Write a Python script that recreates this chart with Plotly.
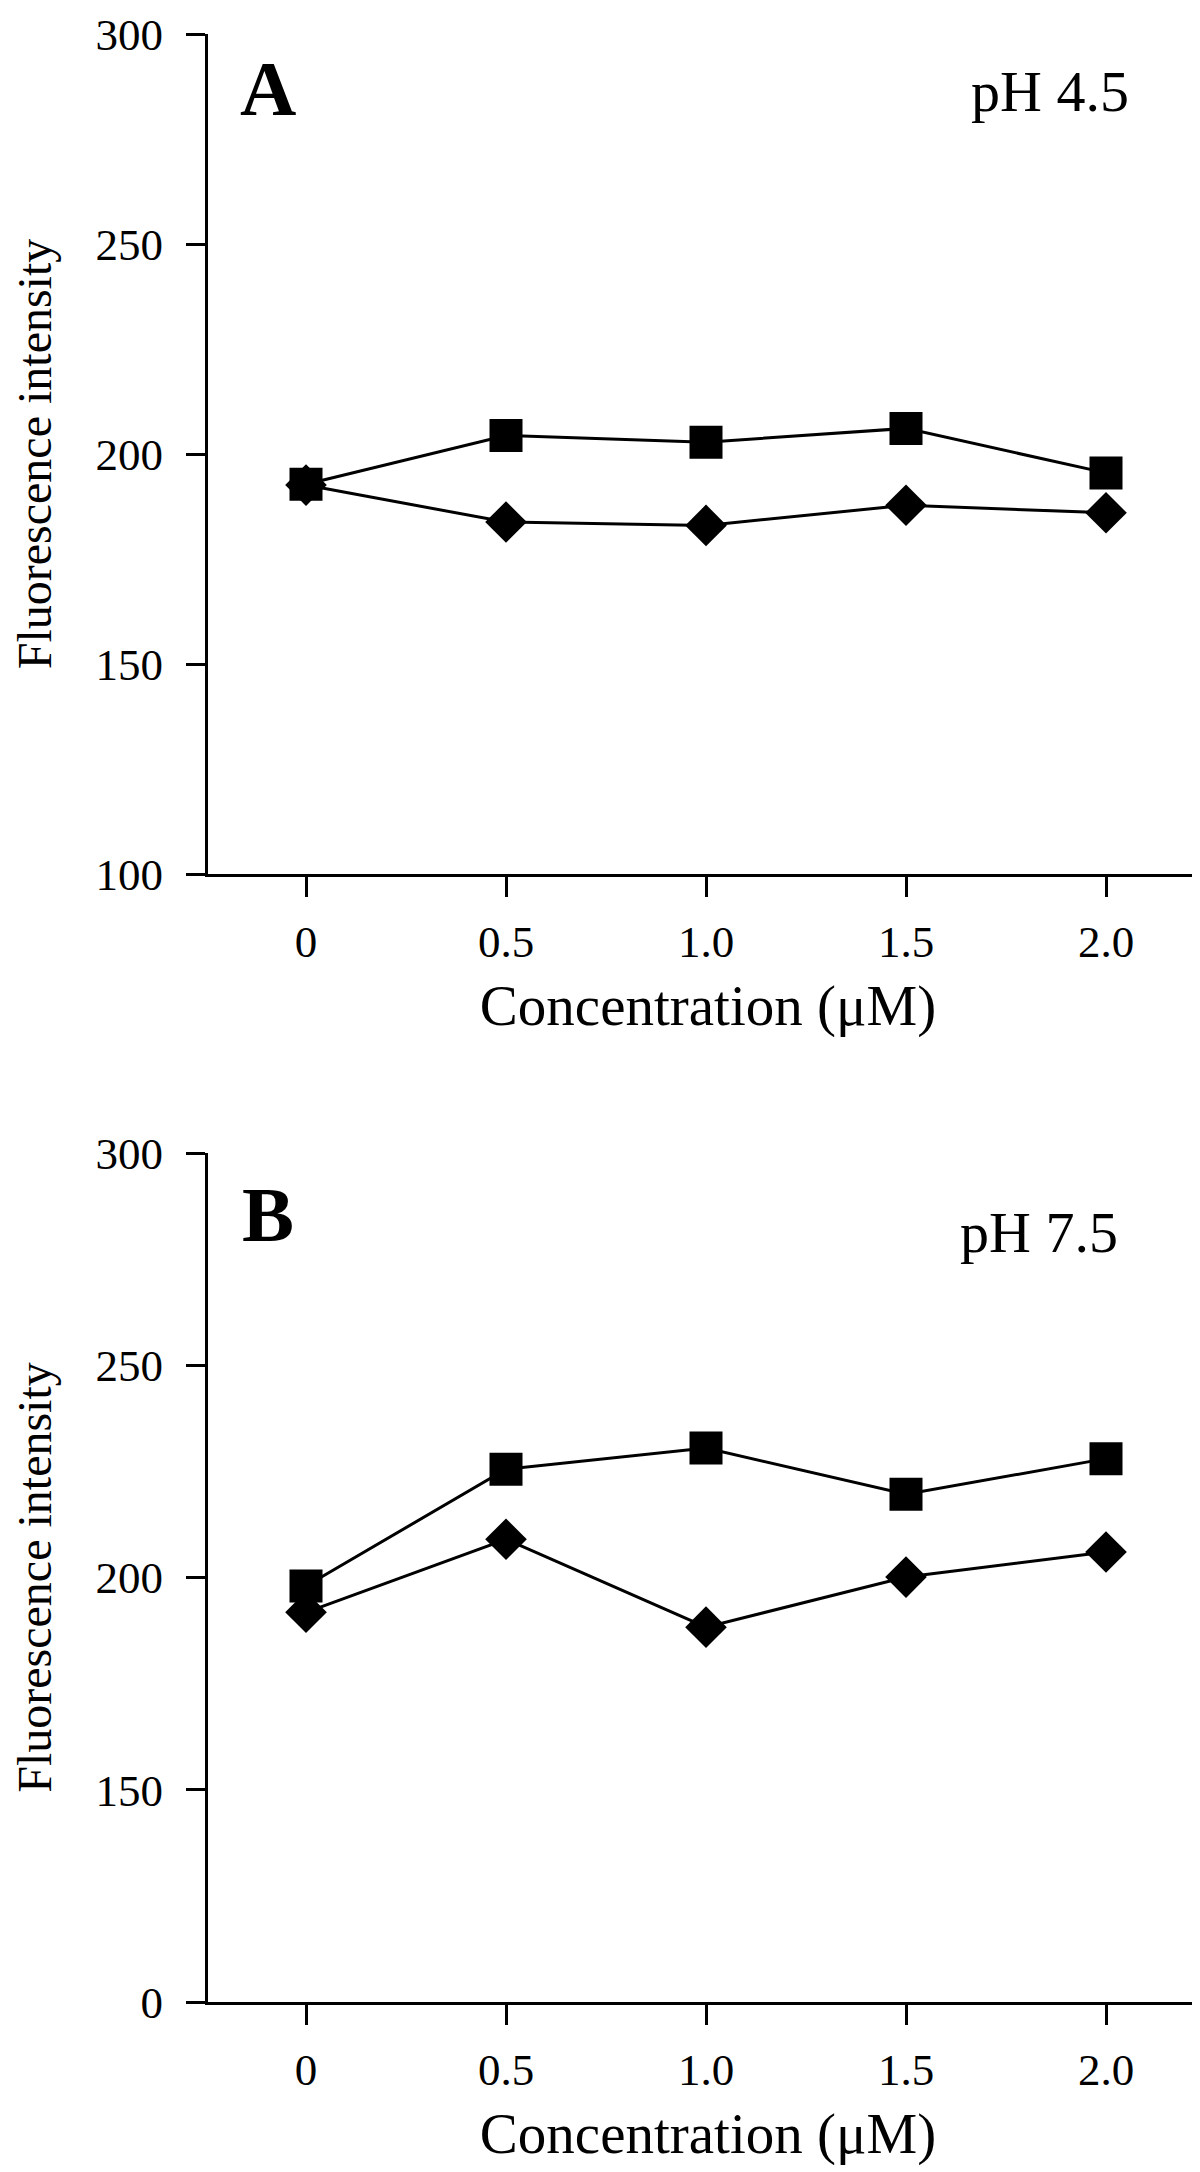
import plotly.graph_objects as go
from plotly.subplots import make_subplots

# ---- data ----
concentration = [0, 0.5, 1.0, 1.5, 2.0]
x_tick_labels = ["0", "0.5", "1.0", "1.5", "2.0"]

a_squares = [192.8, 204.4, 202.8, 206.1, 195.5]
a_diamonds = [192.6, 183.8, 183.0, 187.8, 186.0]

b_squares = [198.0, 225.5, 230.5, 219.6, 228.0]
b_diamonds = [191.8, 209.0, 188.3, 200.1, 206.0]

a_y_ticks = [100, 150, 200, 250, 300]
a_y_labels = ["100", "150", "200", "250", "300"]
b_y_ticks = [100, 150, 200, 250, 300]
b_y_labels = ["0", "150", "200", "250", "300"]

FONT = "Liberation Serif, Times New Roman, serif"

fig = make_subplots(rows=2, cols=1)

def add_series(xs, ys, symbol, size, row):
    fig.add_trace(go.Scatter(
        x=xs, y=ys, mode="lines+markers",
        line=dict(color="black", width=3),
        marker=dict(symbol=symbol, size=size, color="black"),
        showlegend=False, hoverinfo="x+y", cliponaxis=False), row=row, col=1)

add_series(concentration, a_squares, "square", 33, 1)
add_series(concentration, a_diamonds, "diamond", 32, 1)
add_series(concentration, b_squares, "square", 33, 2)
add_series(concentration, b_diamonds, "diamond", 32, 2)

H = 2172
T, B = 26, 178
plot_h = H - T - B

def ydom(top_px, bot_px):
    return [(H - B - bot_px) / plot_h, (H - B - top_px) / plot_h]

xaxis_common = dict(
    range=[-0.245, 2.255], tickvals=concentration, ticktext=x_tick_labels,
    showline=True, linecolor="black", linewidth=3, mirror=False,
    ticks="outside", ticklen=20, tickwidth=3, tickcolor="black",
    showgrid=False, zeroline=False, ticklabelstandoff=6,
    automargin=False, ticklabeloverflow="allow",
    tickfont=dict(family=FONT, size=45, color="black"),
    title=dict(text="Concentration (μM)", font=dict(family=FONT, size=57, color="black"), standoff=20),
)
yaxis_common = dict(
    range=[100, 300],
    showline=True, linecolor="black", linewidth=3,
    ticks="outside", ticklen=19, tickwidth=3, tickcolor="black",
    showgrid=False, zeroline=False, ticklabelstandoff=14,
    automargin=False, ticklabeloverflow="allow",
    tickfont=dict(family=FONT, size=45, color="black"),
    title=dict(text="Fluorescence intensity", font=dict(family=FONT, size=48, color="black"), standoff=30),
)

fig.update_layout(
    width=1200, height=H,
    margin=dict(l=200, r=0, t=T, b=B),
    paper_bgcolor="white", plot_bgcolor="white",
    xaxis=dict(domain=[0, 1], anchor="y", **xaxis_common),
    yaxis=dict(domain=ydom(26, 866), anchor="x", tickvals=a_y_ticks, ticktext=a_y_labels, **yaxis_common),
    xaxis2=dict(domain=[0, 1], anchor="y2", **xaxis_common),
    yaxis2=dict(domain=ydom(1145, 1994), anchor="x2", tickvals=b_y_ticks, ticktext=b_y_labels, **yaxis_common),
)

def px_y(py):
    return (H - B - py) / plot_h

def px_x(px):
    return (px - 200) / 1000

annotations = [
    dict(text="<b>A</b>", x=px_x(230), y=px_y(80), size=78),
    dict(text="<b>B</b>", x=px_x(232), y=px_y(1206), size=78),
    dict(text="pH 4.5", x=px_x(961), y=px_y(84), size=58),
    dict(text="pH 7.5", x=px_x(950), y=px_y(1224), size=58),
]
for a in annotations:
    fig.add_annotation(text=a["text"], x=a["x"], y=a["y"], xref="paper", yref="paper",
                       xanchor="left", yanchor="middle", showarrow=False,
                       font=dict(family=FONT, size=a["size"], color="black"))

fig.write_html("out.html")
